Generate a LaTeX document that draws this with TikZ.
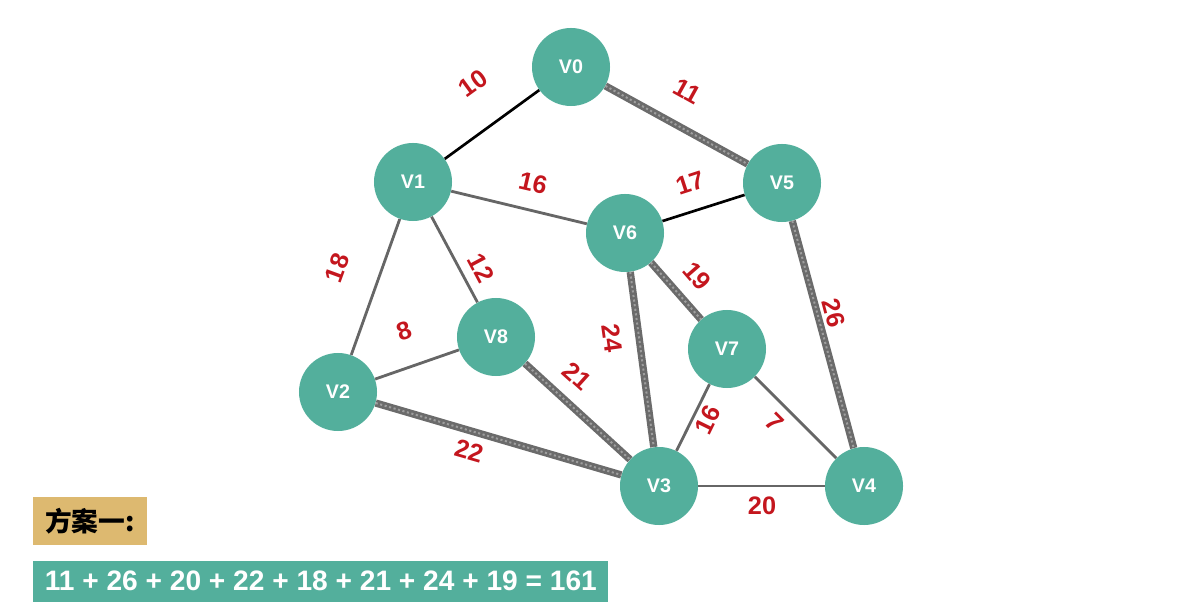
\documentclass[tikz,border=0pt]{standalone}
\usepackage{fontspec}
\setmainfont{Liberation Sans}
\newfontfamily\cjkfont{Noto Sans CJK SC}
\usetikzlibrary{positioning}
\definecolor{vteal}{RGB}{83,175,156}
\definecolor{plantan}{RGB}{221,185,112}
\definecolor{wtred}{RGB}{196,22,30}

\begin{document}
\begin{tikzpicture}[x=0.025cm,y=-0.025cm,
vert/.style={circle,fill=vteal,text=white,inner sep=0pt,minimum size=1.95cm,font=\fontsize{14}{16}\selectfont\bfseries},
wt/.style={text=wtred,inner sep=0pt,font=\fontsize{18}{20}\selectfont\bfseries},
tree/.style={draw=black,line width=1.9pt},
plain/.style={draw=black!60,line width=2pt},
chosen/.style={draw=black!58,line width=5.2pt,postaction={draw=black!38,line width=1.4pt,dash pattern=on 1.5pt off 1.8pt}}]
\useasboundingbox (0,0) rectangle (1200,615);
\node[vert] (v0) at (571,67) {V0};
\node[vert] (v1) at (413,182) {V1};
\node[vert] (v2) at (338,392) {V2};
\node[vert] (v3) at (659,486) {V3};
\node[vert] (v4) at (864,486) {V4};
\node[vert] (v5) at (782,183) {V5};
\node[vert] (v6) at (625,233) {V6};
\node[vert] (v7) at (727,349) {V7};
\node[vert] (v8) at (496,337) {V8};
\draw[tree] (v1) -- (v0);
\draw[tree] (v6) -- (v5);
\draw[plain] (v1) -- (v6);
\draw[plain] (v1) -- (v8);
\draw[plain] (v1) -- (v2);
\draw[plain] (v2) -- (v8);
\draw[plain] (v3) -- (v7);
\draw[plain] (v7) -- (v4);
\draw[plain] (v3) -- (v4);
\draw[chosen] (v0) -- (v5);
\draw[chosen] (v5) -- (v4);
\draw[chosen] (v6) -- (v3);
\draw[chosen] (v6) -- (v7);
\draw[chosen] (v8) -- (v3);
\draw[chosen] (v2) -- (v3);
\node[wt,rotate=36] (w01) at (473,83) {10};
\node[wt,rotate=-29] (w05) at (687,91) {11};
\node[wt,rotate=-13] (w16) at (533,183) {16};
\node[wt,rotate=18] (w56) at (690,183) {17};
\node[wt,rotate=70] (w12) at (337,268) {18};
\node[wt,rotate=-62] (w18) at (481,268) {12};
\node[wt,rotate=19] (w28) at (404,331) {8};
\node[wt,rotate=-42] (w38) at (577,376) {21};
\node[wt,rotate=-82] (w36) at (612,338) {24};
\node[wt,rotate=-49] (w67) at (697,276) {19};
\node[wt,rotate=-75] (w45) at (834,313) {26};
\node[wt,rotate=64] (w37) at (708,420) {16};
\node[wt,rotate=-45] (w47) at (775,422) {7};
\node[wt] (w34) at (762,506) {20};
\node[wt,rotate=-16] (w23) at (469,451) {22};
\node[fill=plantan,anchor=north west,minimum width=2.83cm,minimum height=1.2cm,font=\cjkfont\fontsize{19}{21}\selectfont\bfseries] (plan) at (33,497) {方案一:};
\node[fill=vteal,text=white,below=0.375cm of plan.south west,anchor=north west,minimum width=14.375cm,minimum height=1.02cm,font=\fontsize{20}{22}\selectfont\bfseries] (sum) {11 + 26 + 20 + 22 + 18 + 21 + 24 + 19 = 161};
\end{tikzpicture}
\end{document}
